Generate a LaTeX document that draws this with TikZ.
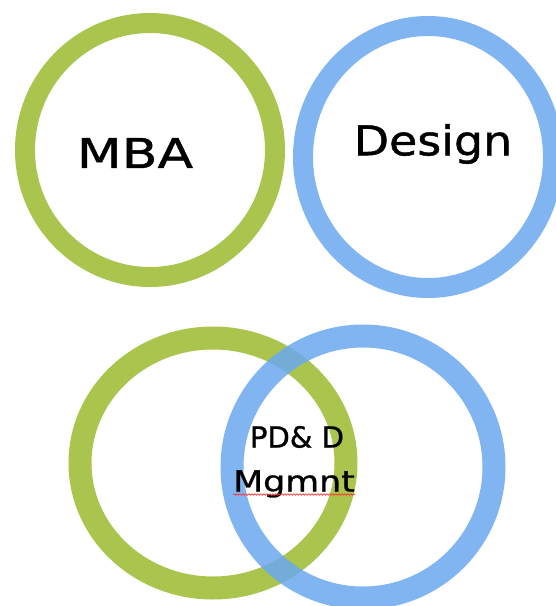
\documentclass[tikz,border=0pt]{standalone}
\usepackage{fontspec}
\setmainfont{DejaVu Sans}
\usetikzlibrary{positioning,shapes.geometric,decorations.pathmorphing}

\definecolor{mbagreen}{HTML}{9BBA2E}
\definecolor{designblue}{HTML}{6AA8EE}

\begin{document}
\begin{tikzpicture}[x=1pt, y=-1pt,
	ring/.style={ellipse, draw, inner sep=0pt, line width=20pt, draw opacity=0.85},
	mbaring/.style={ring, draw=mbagreen},
	designring/.style={ring, draw=designblue},
	bigword/.style={font=\fontsize{41}{46}\selectfont\addfontfeatures{FakeBold=1.1,FakeStretch=#1}, inner sep=0pt},
	bigword/.default=1,
	smallword/.style={font=\fontsize{29}{32}\selectfont\addfontfeatures{FakeBold=1,FakeStretch=#1}, inner sep=0pt},
	smallword/.default=1,
	spellline/.style={draw=red!80, line width=0.6pt, decorate, decoration={snake, amplitude=0.8pt, segment length=3pt}}]

\useasboundingbox (0,0) rectangle (556,606);

% the two fields on their own
\node[mbaring, minimum width=250pt, minimum height=254pt] (mba) at (150,150) {};
\node[designring, minimum width=250pt, minimum height=262pt] (design) at (428,157) {};
\node[bigword=1.27] (mbatext) at (135,153) {MBA};
\node[bigword=1.12] (designtext) at (433,144) {Design};

% the two fields overlapping
\node[mbaring, line width=23pt, minimum width=266pt, minimum height=250pt] (mbalow) at (213,463) {};
\node[designring, line width=23pt, minimum width=262pt, minimum height=262pt] (designlow) at (363,467) {};
\node[smallword] (pdd) at (297,437) {PD\& D};
\node[smallword=1.2, below=22pt of pdd, xshift=-3pt] (mgmnt) {Mgmnt};
\draw[spellline] ([yshift=-3pt]mgmnt.base west) -- ([yshift=-3pt]mgmnt.base east);

\end{tikzpicture}
\end{document}
